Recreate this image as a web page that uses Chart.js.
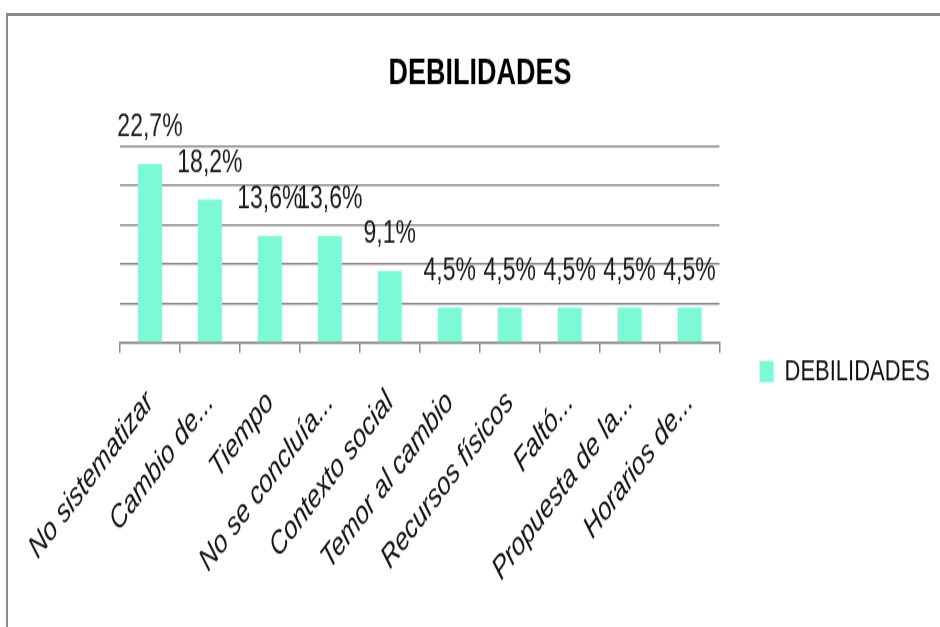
<!DOCTYPE html>
<html>
<head>
<meta charset="utf-8">
<script src="https://cdn.jsdelivr.net/npm/chart.js@4.4.1/dist/chart.umd.min.js"></script>
<style>
  html, body { margin: 0; padding: 0; background: #fff; width: 940px; height: 627px; overflow: hidden; }
  #wrap { position: absolute; left: 0; top: 0; width: 940px; height: 470px;
          transform: scaleY(1.334); transform-origin: 0 0; }
  #frame { position: absolute; left: 6px; top: 13px; width: 960px; height: 640px; z-index: 2;
           border-top: 3px solid #8a8a8a; border-left: 2px solid #8a8a8a; pointer-events: none; }
</style>
</head>
<body>
<div id="wrap"><canvas id="c"></canvas></div>
<div id="frame"></div>
<script>
const categories = ["No sistematizar", "Cambio de...", "Tiempo", "No se concluía...", "Contexto social",
                    "Temor al cambio", "Recursos físicos", "Faltó...", "Propuesta de la...", "Horarios de..."];
const values = [22.7, 18.2, 13.6, 13.6, 9.1, 4.5, 4.5, 4.5, 4.5, 4.5];
const seriesName = "DEBILIDADES";
const chartTitle = "DEBILIDADES";
const yMax = 25, yStep = 5;

const FONT = "'Liberation Sans', Arial, sans-serif";
const barColor = "#7DF9D6";
const gridColor = "#8c8c8c";

const labelPlugin = {
  id: 'valueLabels',
  afterDatasetsDraw(chart) {
    const ctx = chart.ctx;
    const meta = chart.getDatasetMeta(0);
    ctx.save();
    ctx.font = "23px " + FONT;
    ctx.fillStyle = "#1a1a1a";
    ctx.textAlign = "center";
    ctx.textBaseline = "alphabetic";
    meta.data.forEach((bar, i) => {
      const txt = values[i].toFixed(1).replace('.', ',') + '%';
      ctx.fillText(txt, bar.x, bar.y - 21);
    });
    ctx.restore();
  }
};

new Chart(document.getElementById('c'), {
  type: 'bar',
  data: {
    labels: categories,
    datasets: [{
      label: seriesName,
      data: values,
      backgroundColor: barColor,
      borderWidth: 0,
      categoryPercentage: 1.0,
      barPercentage: 0.4,
      yAxisID: 'y'
    }]
  },
  options: {
    responsive: true,
    maintainAspectRatio: false,
    animation: false,
    layout: { padding: { left: 20, right: 0, top: 0, bottom: 6 } },
    plugins: {
      title: {
        display: true,
        text: chartTitle,
        color: '#000',
        font: { family: FONT, size: 27, weight: 'bold' },
        padding: { top: 39, bottom: 38 }
      },
      legend: {
        display: true,
        position: 'right',
        maxWidth: 400,
        title: { display: true, text: ' ', font: { size: 6 }, padding: { top: 43, bottom: 43 } },
        labels: {
          boxWidth: 14,
          boxHeight: 16,
          color: '#111',
          font: { family: FONT, size: 22 },
          padding: 3
        }
      },
      tooltip: { enabled: false }
    },
    scales: {
      x: {
        grid: { display: true, drawOnChartArea: false, drawTicks: true, tickLength: 7.5, color: gridColor, lineWidth: 1.5, offset: true },
        border: { display: true, color: gridColor, width: 1.5 },
        ticks: {
          color: '#111',
          font: { family: FONT, size: 24, style: 'italic' },
          minRotation: 45, maxRotation: 45,
          autoSkip: false,
          padding: 23
        }
      },
      y: {
        position: 'left',
        min: 0, max: yMax,
        ticks: { display: false, stepSize: yStep },
        grid: { color: gridColor, lineWidth: 1.5, drawTicks: false },
        border: { display: false },
        afterFit: (s) => { s.width = 100; }
      },
      yR: {
        position: 'right',
        min: 0, max: yMax,
        ticks: { display: false },
        grid: { display: false, drawTicks: false },
        border: { display: false },
        afterFit: (s) => { s.width = 37; }
      }
    }
  },
  plugins: [labelPlugin]
});
</script>
</body>
</html>
